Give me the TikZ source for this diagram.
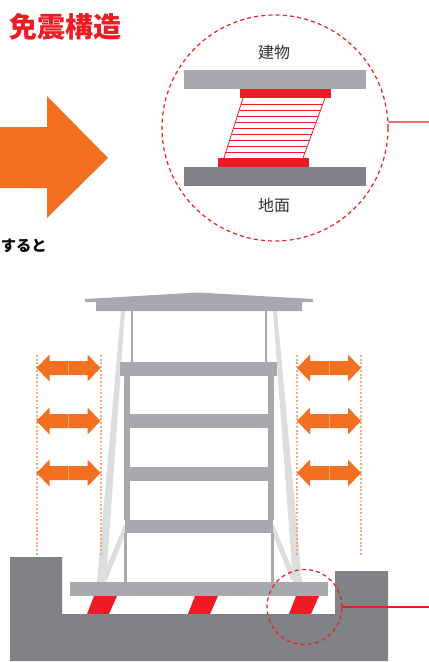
\documentclass[tikz,border=0pt]{standalone}
\usepackage{fontspec}
\usetikzlibrary{calc}
\newfontfamily\jpfont{Noto Sans CJK JP}
\definecolor{isored}{RGB}{237,28,36}
\definecolor{quakeorange}{RGB}{243,112,33}
\definecolor{guideorange}{RGB}{247,170,120}
\definecolor{bldgray}{RGB}{167,169,172}
\definecolor{gndgray}{RGB}{128,130,133}
\definecolor{bracegray}{RGB}{220,221,222}
\definecolor{labelgray}{RGB}{51,51,51}
\tikzset{
  zoomring/.style={circle,draw=isored,line width=0.9pt,dash pattern=on 3pt off 2.4pt,inner sep=0pt},
  leader/.style={draw=isored,line width=0.9pt},
  guide/.style={draw=guideorange,line width=1.1pt,dash pattern=on 1.4pt off 1.4pt},
  jplabel/.style={font=\jpfont\fontsize{12}{12}\selectfont,text=labelgray,inner sep=0.75pt}
}
\begin{document}
\begin{tikzpicture}[x=0.75pt,y=0.75pt,yscale=-1,xscale=1]
        \useasboundingbox (0,0) rectangle (429,662);

        % Title
        \node (title) [anchor=west,inner sep=0pt,text=isored,font=\jpfont\bfseries\fontsize{21}{21}\selectfont] at (9,27) {免震構造};

        %Shape: Right Arrow
        \fill [quakeorange] (0,127) -- (47,127) -- (47,96) -- (108,158) -- (47,218) -- (47,188) -- (0,188) -- cycle ;
        % Text Node
        \node (result) [anchor=west,inner sep=0pt,font=\jpfont\bfseries\fontsize{11.5}{11.5}\selectfont] at (0.5,246) {すると};

        %Shape: Rectangle (upper plate)
        \fill [bldgray] (184,70) rectangle (366,89) ;
        %Shape: Rectangle (lower plate)
        \fill [gndgray] (184,167) rectangle (366,186) ;
        %Shape: Rectangle (flanges)
        \fill [isored] (240,89) rectangle (331,98) ;
        \fill [isored] (218,158) rectangle (309,167) ;
        %Rubber layers
        \coordinate (rtl) at (243,98);
        \coordinate (rtr) at (325,98);
        \coordinate (rbl) at (224,158);
        \coordinate (rbr) at (303,158);
        \draw [isored,line width=0.6pt] (rtl) -- (rbl) (rtr) -- (rbr) ;
        \foreach \k in {1,...,9}
          \draw [isored,line width=0.6pt] ($(rtl)!\k/10!(rbl)$) -- ($(rtr)!\k/10!(rbr)$) ;

        % Text Node
        \node (bldlabel) [jplabel] at (274,52) {建物};
        \node (gndlabel) [jplabel] at (274,205) {地面};

        %Shape: Circle
        \node (topzoom) [zoomring,minimum size=169.5pt] at (275,128) {};
        \coordinate (topend) at (429,122);
        \draw [leader] (topzoom.3) -- (topend) ;

        %Braces
        \fill [bracegray] (121,311) -- (125,311) -- (106,582) -- (97,582) -- cycle ;
        \fill [bracegray] (273,311) -- (277,311) -- (302,582) -- (293,582) -- cycle ;
        \fill [bracegray] (124,525) -- (127,530) -- (107,580) -- (102,578) -- cycle ;
        \fill [bracegray] (274,525) -- (271,530) -- (291,580) -- (296,578) -- cycle ;

        %Roof
        \fill [bldgray] (85,299) -- (198,292.5) -- (313,299) -- (313,302) -- (302,302) -- (302,311) -- (96,311) -- (96,302) -- (85,302) -- cycle ;
        \draw [bldgray,line width=1.5pt] (132,311) -- (132,362) (266,311) -- (266,362) ;

        %Columns
        \fill [bldgray] (124,376) rectangle (130,520) ;
        \fill [bldgray] (268,376) rectangle (274,520) ;
        \fill [bldgray] (124,533) rectangle (127,582) ;
        \fill [bldgray] (271,533) rectangle (274,582) ;

        %Floor slabs
        \fill [bldgray] (120,362) rectangle (277,376) ;
        \fill [bldgray] (130,414) rectangle (268,428) ;
        \fill [bldgray] (130,467) rectangle (268,481) ;
        \fill [bldgray] (125,520) rectangle (273,533) ;
        \fill [bldgray] (70,582) rectangle (328,596) ;

        %Isolators
        \foreach \dx in {0,101,202}
          \fill [isored] (87+\dx,614) -- (109+\dx,614) -- (117+\dx,596) -- (94+\dx,596) -- cycle ;

        %Ground
        \fill [gndgray] (10,557) -- (62,557) -- (62,614) -- (335,614) -- (335,571) -- (388,571) -- (388,661) -- (10,661) -- cycle ;

        %Sway guides
        \foreach \gx in {37,101,297,361}
          \draw [guide] (\gx,355) -- (\gx,555) ;

        %Double arrows
        \foreach \cx in {68.5,329}
          \foreach \cy in {368,421,473} {
            \fill [quakeorange] (\cx-32,\cy) -- (\cx-19,\cy-13.5) -- (\cx-19,\cy-7) -- (\cx+19,\cy-7) -- (\cx+19,\cy-13.5) -- (\cx+32,\cy) -- (\cx+19,\cy+13.5) -- (\cx+19,\cy+7) -- (\cx-19,\cy+7) -- (\cx-19,\cy+13.5) -- cycle ;
            \draw [white,opacity=0.35,line width=0.4pt] (\cx,\cy-7) -- (\cx,\cy+7) ;
          }

        %Shape: Circle
        \node (basezoom) [zoomring,minimum size=56.25pt] at (304.5,607) {};
        \coordinate (baseend) at (429,607);
        \draw [leader] (basezoom.east) -- (baseend) ;
        \draw [leader] ([yshift=-1.5pt]basezoom.east) -- ([yshift=1.5pt]basezoom.east) ;
\end{tikzpicture}
\end{document}
